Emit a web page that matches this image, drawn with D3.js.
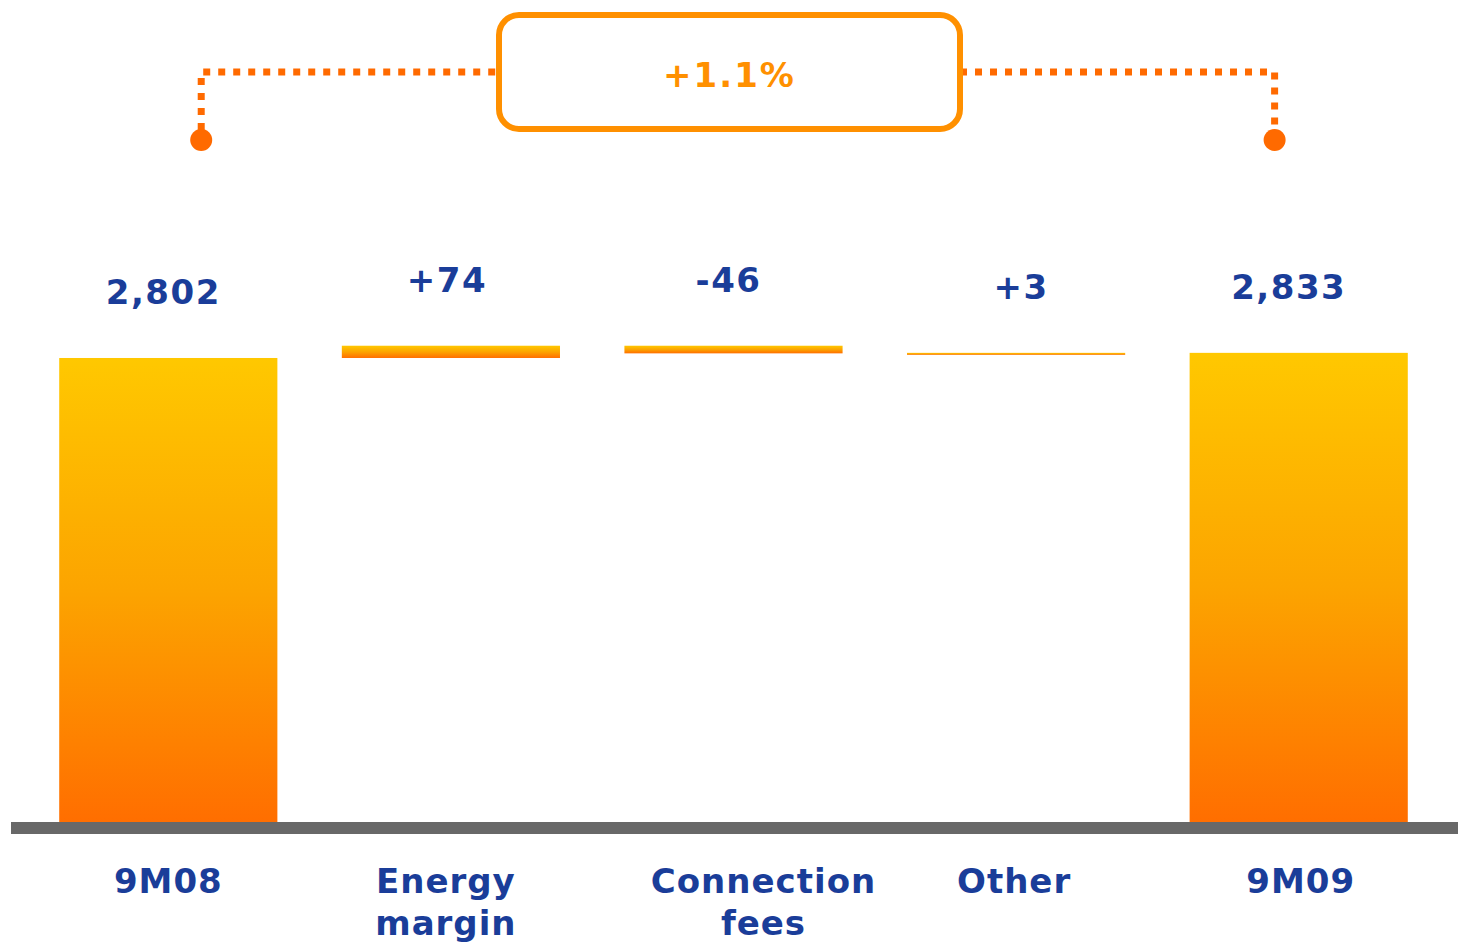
<!DOCTYPE html>
<html>
<head>
<meta charset="utf-8">
<script src="https://cdn.jsdelivr.net/npm/d3@7"></script>
<style>
  html, body { margin: 0; padding: 0; background: #fff; }
  svg { display: block; }
  text { font-family: "DejaVu Sans", Verdana, sans-serif; font-weight: bold; }
</style>
</head>
<body>
<script>
// ---- data ----
const categories = ["9M08", "Energy\nmargin", "Connection\nfees", "Other", "9M09"];
const values = [2802, 74, -46, 3, 2833];
const kinds = ["total", "delta", "delta", "delta", "total"];
const valueLabels = ["2,802", "+74", "-46", "+3", "2,833"];
const changeLabel = "+1.1%";

// ---- layout ----
const W = 1458, H = 944;
const baseY = 822;
const labelDx = [0, -5, 30, -2, 2];
const valueDx = [-5, -4, -5, 5, -10];

const svg = d3.select("body").append("svg").attr("width", W).attr("height", H);

const defs = svg.append("defs");
const grad = defs.append("linearGradient").attr("id", "barGrad")
  .attr("x1", 0).attr("y1", 0).attr("x2", 0).attr("y2", 1);
grad.append("stop").attr("offset", "0%").attr("stop-color", "#ffc800");
grad.append("stop").attr("offset", "50%").attr("stop-color", "#fca400");
grad.append("stop").attr("offset", "100%").attr("stop-color", "#ff6e00");

const x = d3.scaleBand().domain(categories).range([27, 1440]).paddingInner(0.228).paddingOuter(0.114);
const y = d3.scaleLinear().domain([0, 3000]).range([baseY, baseY - 3000 * 0.16560]);

// compute waterfall spans
let running = 0;
const bars = categories.map((c, i) => {
  let lo, hi;
  if (kinds[i] === "total") { lo = 0; hi = values[i]; running = values[i]; }
  else { const start = running; running += values[i]; lo = Math.min(start, running); hi = Math.max(start, running); }
  return { c, i, lo, hi };
});

svg.selectAll("rect.bar").data(bars).enter().append("rect")
  .attr("class", "bar")
  .attr("x", d => x(d.c))
  .attr("width", x.bandwidth())
  .attr("y", d => y(d.hi))
  .attr("height", d => Math.max(2, y(d.lo) - y(d.hi)))
  .attr("fill", "url(#barGrad)");

// axis baseline
svg.append("rect").attr("x", 11).attr("y", baseY).attr("width", W - 11).attr("height", 12).attr("fill", "#686868");

// value labels
svg.selectAll("text.val").data(bars).enter().append("text")
  .attr("class", "val")
  .attr("x", d => x(d.c) + x.bandwidth() / 2 + valueDx[d.i])
  .attr("y", d => y(d.hi) - 54)
  .attr("text-anchor", "middle")
  .attr("font-size", 34)
  .attr("letter-spacing", 1.5)
  .attr("fill", "#1a3d99")
  .text(d => valueLabels[d.i]);

// category labels
const cat = svg.selectAll("text.cat").data(categories).enter().append("text")
  .attr("class", "cat")
  .attr("text-anchor", "middle")
  .attr("font-size", 34)
  .attr("letter-spacing", 1)
  .attr("fill", "#1a3d99");
cat.each(function (d, i) {
  const lines = d.split("\n");
  const cx = x(d) + x.bandwidth() / 2 + labelDx[i];
  d3.select(this).selectAll("tspan").data(lines).enter().append("tspan")
    .attr("x", cx)
    .attr("y", (l, j) => 893 + j * 42)
    .text(l => l);
});

// bracket
const xl = x(categories[0]) + 142, xr = x(categories[4]) + 85;
const boxX0 = 499, boxX1 = 960, boxY0 = 15, boxY1 = 129, lineY = 72;
const dot = "#ff6a00";
const dash = { "stroke": dot, "stroke-width": 7, "stroke-dasharray": "7,8", "fill": "none" };
function dl(pts) {
  const p = svg.append("path").attr("d", d3.line()(pts));
  Object.entries(dash).forEach(([k, v]) => p.attr(k, v));
}
dl([[xl, 130], [xl, lineY], [boxX0, lineY]]);
dl([[boxX1, lineY], [xr, lineY], [xr, 130]]);
svg.append("circle").attr("cx", xl).attr("cy", 140).attr("r", 11).attr("fill", dot);
svg.append("circle").attr("cx", xr).attr("cy", 140).attr("r", 11).attr("fill", dot);

svg.append("rect").attr("x", boxX0).attr("y", boxY0).attr("width", boxX1 - boxX0).attr("height", boxY1 - boxY0)
  .attr("rx", 20).attr("ry", 20).attr("fill", "#fff").attr("stroke", "#ff9000").attr("stroke-width", 6);
svg.append("text").attr("x", (boxX0 + boxX1) / 2).attr("y", 87)
  .attr("text-anchor", "middle").attr("font-size", 34).attr("letter-spacing", 2)
  .attr("fill", "#ff9000").text(changeLabel);
</script>
</body>
</html>
